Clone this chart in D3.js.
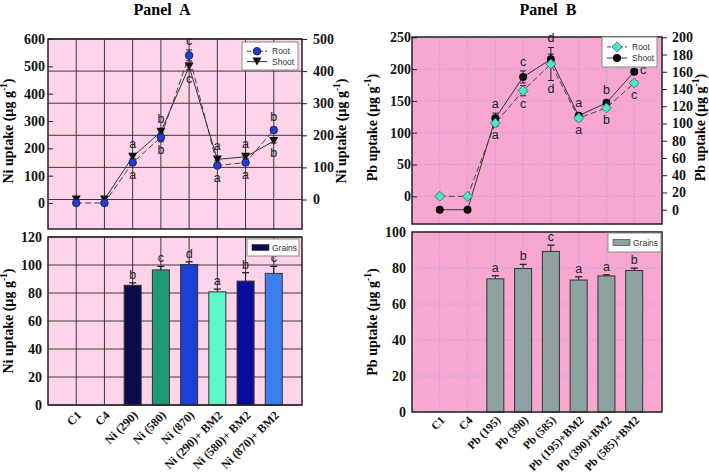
<!DOCTYPE html>
<html><head><meta charset="utf-8">
<script src="https://cdn.jsdelivr.net/npm/d3@7"></script>
<style>
html,body{margin:0;padding:0;background:#fff;}
svg{display:block;}
</style></head>
<body>
<svg id="chart" width="709" height="476"></svg>
<script>
// ---------------- DATA ----------------
const catsA = ["C1","C4","Ni (290)","Ni (580)","Ni (870)","Ni (290)+ BM2","Ni (580)+ BM2","Ni (870)+ BM2"];
const rootA = [0,0,148,240,540,137,148,267];
const rootErrA = [0,0,8,16,20,6,6,10];
const shootA = [0,0,133,211,414,125,133,182];
const shootErrA = [0,0,5,8,10,5,5,6];
const topLettersA = ["","","a","b","c","a","a","b"];
const botLettersA = ["","","a","b","c","a","a","b"];
const grainA = [null,null,85.5,96.5,100.3,80.8,88.5,94];
const grainErrA = [0,0,1.8,2.5,2,2,6,5];
const grainLettersA = ["","","b","c","d","a","b","c"];
const grainColorsA = ["#000","#000","#0b0b4d","#1f9a74","#1c3fd6","#5ef7c8","#0a0c9e","#3c80ee"];
const leftTicksA = [0,100,200,300,400,500,600];
const rightTicksA = [0,100,200,300,400,500];
const barTicksA = [0,20,40,60,80,100,120];

const catsB = ["C1","C4","Pb (195)","Pb (390)","Pb (585)","Pb (195)+BM2","Pb (390)+BM2","Pb (585)+BM2"];
const rootB = [0,0,115,166,208,123,139,178];
const rootErrB = [0,0,5,8,26,4,3,4];
const shootB = [0,0,106,154,174.5,109,124,160];
const shootErrB = [0,0,6,7,6,3,2,2];
const topLettersB = ["","","a","c","d","a","b","c"];
const botLettersB = ["","","a","c","d","a","b","c"];
const grainB = [null,null,74,79.7,89.2,73.3,75.6,78.6];
const grainErrB = [0,0,1.7,2.3,3.5,1.8,0.6,1.3];
const grainLettersB = ["","","a","b","c","a","a","b"];
const leftTicksB = [0,50,100,150,200,250];
const rightTicksB = [0,20,40,60,80,100,120,140,160,180,200];
const barTicksB = [0,20,40,60,80,100];

// ---------------- DRAW ----------------
const svg = d3.select("#chart");
const SERIF = "'Liberation Serif','Times New Roman',serif";
const SANS = "'Liberation Sans',Arial,sans-serif";
const LETTER = "#222";

function title(txt, x){
  svg.append("text").attr("x",x).attr("y",15).attr("text-anchor","middle")
    .attr("font-family",SERIF).attr("font-weight","bold").attr("font-size",16)
    .attr("xml:space","preserve").text(txt);
}
title("Panel  A",162);
title("Panel  B",548);

function yTitle(x, y, metal){
  const t = svg.append("text").attr("transform",`translate(${x},${y}) rotate(-90)`)
    .attr("text-anchor","middle").attr("font-family",SERIF).attr("font-weight","bold").attr("font-size",14);
  t.append("tspan").text(metal+" uptake (\u00b5g g");
  t.append("tspan").attr("dy",-6).attr("font-size",9.5).text("-1");
  t.append("tspan").attr("dy",6).text(")");
}

function panel(cfg){
  const x = d3.scalePoint().domain(cfg.cats).range([cfg.x0, cfg.x1]).padding(1);
  // ---------- top line chart ----------
  const T = cfg.top;
  const yL = d3.scaleLinear().domain(cfg.leftDom).range(cfg.leftRange);
  const yR = d3.scaleLinear().domain(cfg.rightDom).range(cfg.rightRange);
  const g = svg.append("g");
  g.append("rect").attr("x",cfg.x0).attr("y",T.y0).attr("width",cfg.x1-cfg.x0).attr("height",T.y1-T.y0).attr("fill",cfg.bg);
  const gridTicks = cfg.gridOnRight ? cfg.rightTicks.map(v=>yR(v)) : cfg.leftTicks.map(v=>yL(v));
  g.selectAll(".hg").data(gridTicks).enter().append("line")
    .attr("x1",cfg.x0).attr("x2",cfg.x1).attr("y1",d=>d).attr("y2",d=>d)
    .attr("stroke",cfg.gridColor).attr("stroke-width",1).attr("stroke-dasharray",cfg.gridDash);
  g.selectAll(".vg").data(cfg.cats).enter().append("line")
    .attr("x1",d=>x(d)).attr("x2",d=>x(d)).attr("y1",T.y0).attr("y2",T.y1)
    .attr("stroke",cfg.gridColor).attr("stroke-width",1).attr("stroke-dasharray",cfg.gridDash);

  // left axis
  const aL = d3.axisLeft(yL).tickValues(cfg.leftTicks).tickSize(-5).tickPadding(cfg.lpad).tickFormat(d3.format("d"));
  const gl = g.append("g").attr("transform",`translate(${cfg.x0},0)`).call(aL);
  gl.select(".domain").remove();
  gl.selectAll("text").attr("font-family",SERIF).attr("font-weight","bold").attr("font-size",14).attr("fill","#111");
  gl.selectAll("line").attr("stroke","#222");
  const aR = d3.axisRight(yR).tickValues(cfg.rightTicks).tickSize(5).tickPadding(cfg.rpad).tickFormat(d3.format("d"));
  const gr = g.append("g").attr("transform",`translate(${cfg.x1},0)`).call(aR);
  gr.select(".domain").remove();
  gr.selectAll("text").attr("font-family",SERIF).attr("font-weight","bold").attr("font-size",14).attr("fill","#111");
  gr.selectAll("line").attr("stroke","#222");

  const rootPts = cfg.cats.map((c,i)=>({x:x(c), y:yL(cfg.root[i]), eT:yL(cfg.root[i]+cfg.rootErr[i]), eB:yL(cfg.root[i]-cfg.rootErr[i])}));
  const shootPts = cfg.cats.map((c,i)=>({x:x(c), y:yR(cfg.shoot[i]), eT:yR(cfg.shoot[i]+cfg.shootErr[i]), eB:yR(cfg.shoot[i]-cfg.shootErr[i])}));
  const line = d3.line().x(d=>d.x).y(d=>d.y);
  // error bars
  [rootPts, shootPts].forEach(pts=>{
    pts.forEach(p=>{
      if (Math.abs(p.eT-p.eB) < 0.5) return;
      g.append("line").attr("x1",p.x).attr("x2",p.x).attr("y1",p.eT).attr("y2",p.eB).attr("stroke","#222").attr("stroke-width",1);
      [p.eT,p.eB].forEach(yy=>g.append("line").attr("x1",p.x-3).attr("x2",p.x+3).attr("y1",yy).attr("y2",yy).attr("stroke","#222").attr("stroke-width",1));
    });
  });
  g.append("path").datum(shootPts).attr("d",line).attr("fill","none").attr("stroke","#333").attr("stroke-width",1);
  g.append("path").datum(rootPts).attr("d",line).attr("fill","none").attr("stroke","#444").attr("stroke-width",1).attr("stroke-dasharray","6,3");
  cfg.drawShoot(g, shootPts);
  cfg.drawRoot(g, rootPts);

  // letters
  cfg.cats.forEach((c,i)=>{
    const tops = Math.min(rootPts[i].eT, shootPts[i].eT, rootPts[i].y-4, shootPts[i].y-4);
    const bots = Math.max(rootPts[i].eB, shootPts[i].eB, rootPts[i].y+4, shootPts[i].y+4);
    if (cfg.topLetters[i]){
      let tx = x(c), ty = tops-5;
      // the last top letter of Panel B sits beside its point (legend above it)
      if (cfg.sideLast && i===cfg.cats.length-1){ tx = x(c)+9; ty = shootPts[i].y+2; }
      g.append("text").attr("x",tx).attr("y",ty).attr("text-anchor","middle")
        .attr("font-family",SANS).attr("font-size",12.5).attr("fill",LETTER).text(cfg.topLetters[i]);
    }
    if (cfg.botLetters[i]){
      g.append("text").attr("x",x(c)).attr("y",bots+12).attr("text-anchor","middle")
        .attr("font-family",SANS).attr("font-size",12.5).attr("fill",LETTER).text(cfg.botLetters[i]);
    }
  });
  g.append("rect").attr("x",cfg.x0).attr("y",T.y0).attr("width",cfg.x1-cfg.x0).attr("height",T.y1-T.y0)
    .attr("fill","none").attr("stroke","#222").attr("stroke-width",1.5);

  // legend
  const L = cfg.leg;
  g.append("rect").attr("x",L.x).attr("y",L.y).attr("width",L.w).attr("height",L.h).attr("fill","#fff").attr("stroke","#888");
  const ly1 = L.y+L.h*0.33, ly2 = L.y+L.h*0.7;
  g.append("line").attr("x1",L.x+5).attr("x2",L.x+25).attr("y1",ly1).attr("y2",ly1).attr("stroke","#444").attr("stroke-dasharray","4,2");
  g.append("line").attr("x1",L.x+5).attr("x2",L.x+25).attr("y1",ly2).attr("y2",ly2).attr("stroke","#333");
  cfg.drawRoot(g,[{x:L.x+15,y:ly1}]);
  cfg.drawShoot(g,[{x:L.x+15,y:ly2}]);
  g.append("text").attr("x",L.x+30).attr("y",ly1+3).attr("font-family",SANS).attr("font-size",8.5).attr("fill","#333").text("Root");
  g.append("text").attr("x",L.x+30).attr("y",ly2+3).attr("font-family",SANS).attr("font-size",8.5).attr("fill","#333").text("Shoot");

  // ---------- bottom bar chart ----------
  const B = cfg.bot;
  const yB = d3.scaleLinear().domain([0, B.max]).range([B.y1, B.y0]);
  const gb = svg.append("g");
  gb.append("rect").attr("x",cfg.x0).attr("y",B.y0).attr("width",cfg.x1-cfg.x0).attr("height",B.y1-B.y0).attr("fill",cfg.bg);
  gb.selectAll(".hg").data(cfg.barTicks).enter().append("line")
    .attr("x1",cfg.x0).attr("x2",cfg.x1).attr("y1",d=>yB(d)).attr("y2",d=>yB(d))
    .attr("stroke",cfg.gridColor).attr("stroke-dasharray",cfg.gridDash);
  gb.selectAll(".vg").data(cfg.cats).enter().append("line")
    .attr("x1",d=>x(d)).attr("x2",d=>x(d)).attr("y1",B.y0).attr("y2",B.y1)
    .attr("stroke",cfg.gridColor).attr("stroke-dasharray",cfg.gridDash);
  const aB = d3.axisLeft(yB).tickValues(cfg.barTicks).tickSize(0).tickPadding(cfg.bpad).tickFormat(d3.format("d"));
  const gba = gb.append("g").attr("transform",`translate(${cfg.x0},0)`).call(aB);
  gba.select(".domain").remove();
  gba.selectAll("text").attr("font-family",SERIF).attr("font-weight","bold").attr("font-size",14).attr("fill","#111");
  const bw = 17;
  cfg.cats.forEach((c,i)=>{
    const v = cfg.grain[i];
    if (v==null) return;
    const bx = x(c)-bw/2;
    const eT = yB(v+cfg.grainErr[i]);
    gb.append("line").attr("x1",x(c)).attr("x2",x(c)).attr("y1",eT).attr("y2",yB(v)).attr("stroke","#222");
    gb.append("line").attr("x1",x(c)-3.5).attr("x2",x(c)+3.5).attr("y1",eT).attr("y2",eT).attr("stroke","#222").attr("stroke-width",1.3);
    gb.append("rect").attr("x",bx).attr("y",yB(v)).attr("width",bw).attr("height",yB(0)-yB(v))
      .attr("fill",cfg.grainColor(i)).attr("stroke","#333").attr("stroke-width",1);
    gb.append("text").attr("x",x(c)).attr("y",eT-4).attr("text-anchor","middle")
      .attr("font-family",SANS).attr("font-size",12.5).attr("fill",LETTER).text(cfg.grainLetters[i]);
  });
  gb.append("rect").attr("x",cfg.x0).attr("y",B.y0).attr("width",cfg.x1-cfg.x0).attr("height",B.y1-B.y0)
    .attr("fill","none").attr("stroke","#222").attr("stroke-width",1.5);
  const GL = cfg.gleg;
  gb.append("rect").attr("x",GL.x).attr("y",GL.y).attr("width",GL.w).attr("height",GL.h).attr("fill","#fff").attr("stroke","#888");
  gb.append("rect").attr("x",GL.x+5).attr("y",GL.y+GL.h/2-3).attr("width",17).attr("height",6).attr("fill",cfg.grainColor(2)).attr("stroke","#333").attr("stroke-width",0.6);
  gb.append("text").attr("x",GL.x+25).attr("y",GL.y+GL.h/2+3).attr("font-family",SANS).attr("font-size",8.5).attr("fill","#333").text("Grains");

  // x labels
  cfg.cats.forEach(c=>{
    gb.append("text").attr("transform",`translate(${x(c)+3},${B.y1+cfg.xoff}) rotate(-45)`)
      .attr("text-anchor","end").attr("dy","0.35em")
      .attr("font-family",SERIF).attr("font-weight","bold").attr("font-size",cfg.xfont).attr("fill","#111").text(c);
  });

  yTitle(cfg.ltx, (T.y0+T.y1)/2-3, cfg.metal);
  yTitle(cfg.rtx, (T.y0+T.y1)/2-3, cfg.metal);
  yTitle(cfg.ltx, (B.y0+B.y1)/2, cfg.metal);
}

// Panel A
panel({
  metal:"Ni", cats:catsA, x0:48, x1:302, bg:"#ffd3ea",
  gridColor:"#3a3a3a", gridDash:null, gridOnRight:true,
  top:{y0:39, y1:229},
  leftDom:[0,600], leftRange:[203,39], rightDom:[0,500], rightRange:[199.5,39],
  leftTicks:leftTicksA, rightTicks:rightTicksA, lpad:3, rpad:6, bpad:6,
  root:rootA, rootErr:rootErrA, shoot:shootA, shootErr:shootErrA,
  topLetters:topLettersA, botLetters:botLettersA,
  drawRoot:(g,pts)=>g.selectAll(null).data(pts).enter().append("circle").attr("cx",d=>d.x).attr("cy",d=>d.y).attr("r",3.8)
      .attr("fill","#1f3fd0").attr("stroke","#111a55").attr("stroke-width",0.8),
  drawShoot:(g,pts)=>g.selectAll(null).data(pts).enter().append("path")
      .attr("d",d=>`M${d.x-4.5},${d.y-4}L${d.x+4.5},${d.y-4}L${d.x},${d.y+4}Z`).attr("fill","#111"),
  leg:{x:242,y:42,w:56,h:28},
  bot:{y0:237, y1:405, max:120}, barTicks:barTicksA,
  grain:grainA, grainErr:grainErrA, grainLetters:grainLettersA, grainColor:i=>grainColorsA[i],
  gleg:{x:247,y:239,w:52,h:17},
  xfont:12, xoff:8,
  ltx:13, rtx:346
});

// Panel B
panel({
  metal:"Pb", cats:catsB, x0:412, x1:662, bg:"#f8a7d1",
  gridColor:"#b8a0e8", gridDash:"1.5,1.5", gridOnRight:false, sideLast:true,
  top:{y0:37, y1:224},
  leftDom:[0,250], leftRange:[196.3,37.3], rightDom:[0,200], rightRange:[209.7,37.3],
  leftTicks:leftTicksB, rightTicks:rightTicksB, lpad:1, rpad:5, bpad:6,
  root:rootB, rootErr:rootErrB, shoot:shootB, shootErr:shootErrB,
  topLetters:topLettersB, botLetters:botLettersB,
  drawRoot:(g,pts)=>g.selectAll(null).data(pts).enter().append("path")
      .attr("d",d=>`M${d.x},${d.y-5}L${d.x+5},${d.y}L${d.x},${d.y+5}L${d.x-5},${d.y}Z`)
      .attr("fill","#48e8cc").attr("stroke","#2a6a60").attr("stroke-width",0.8),
  drawShoot:(g,pts)=>g.selectAll(null).data(pts).enter().append("circle").attr("cx",d=>d.x).attr("cy",d=>d.y).attr("r",4).attr("fill","#0a0a0a"),
  leg:{x:602,y:37,w:55,h:30},
  bot:{y0:232, y1:412, max:100}, barTicks:barTicksB,
  grain:grainB, grainErr:grainErrB, grainLetters:grainLettersB, grainColor:()=>"#8ea2a2",
  gleg:{x:608,y:233,w:53,h:19},
  xfont:11.5, xoff:6,
  ltx:377, rtx:705
});
</script>
</body></html>
